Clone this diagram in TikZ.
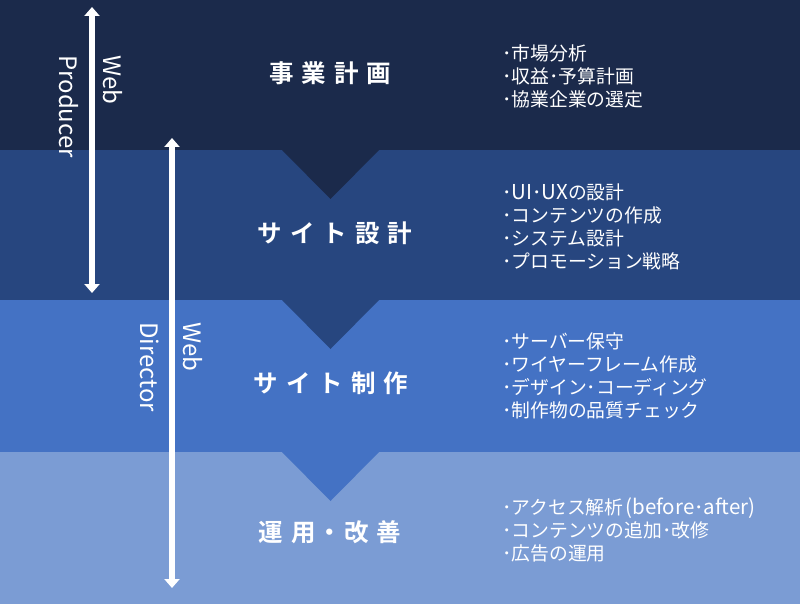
\documentclass[tikz,border=0pt]{standalone}
\usepackage{fontspec}
\setmainfont{Noto Sans CJK JP}[BoldFont={Noto Sans CJK JP Bold}]
\usetikzlibrary{arrows.meta}
\definecolor{bandA}{HTML}{1B2A4B}
\definecolor{bandB}{HTML}{27467F}
\definecolor{bandC}{HTML}{4472C4}
\definecolor{bandD}{HTML}{7B9CD4}
\newcommand{\gp}{\hspace{8pt}}
\newcommand{\latn}[1]{{\fontsize{20.5}{23}\selectfont #1}}
\begin{document}
\begin{tikzpicture}[x=1pt,y=-1pt,
  titlebox/.style={text=white,font=\fontsize{24.5}{28}\selectfont\bfseries,inner sep=0pt},
  listbox/.style={text=white,font=\fontsize{18.8}{23}\selectfont,align=left,anchor=west,inner sep=0pt},
  rolebox/.style={text=white,font=\fontsize{24}{28}\selectfont,rotate=-90,anchor=west,inner sep=0pt},
  rolearrow/.style={draw=white,line width=6pt,{Triangle[width=15pt,length=9pt]}-{Triangle[width=15pt,length=9pt]}}]
\useasboundingbox (0,0) rectangle (800,604);
\fill[bandA] (0,0) rectangle (800,150);
\fill[bandB] (0,150) rectangle (800,300);
\fill[bandC] (0,300) rectangle (800,452);
\fill[bandD] (0,452) rectangle (800,604);
\fill[bandA] (282,150) -- (379,150) -- (330.5,199) -- cycle;
\fill[bandB] (282,300) -- (379,300) -- (330.5,349) -- cycle;
\fill[bandC] (282,452) -- (379,452) -- (330.5,501) -- cycle;

\node[titlebox] (t1) at (330,73) {事\gp 業\gp 計\gp 画};
\node[titlebox] (t2) at (335,233) {サ\gp イ\gp ト\gp 設\gp 計};
\node[titlebox] (t3) at (331,383) {サ\gp イ\gp ト\gp 制\gp 作};
\node[titlebox] (t4) at (330,532) {運\gp 用\hspace{2pt}・\hspace{2pt}改\gp 善};

\node[listbox] (l1) at (502,76) {･市場分析\\･収益･予算計画\\･協業企業の選定};
\node[listbox] (l2) at (502,227) {･\latn{UI}･\latn{UX}の設計\\･コンテンツの作成\\･システム設計\\･プロモーション戦略};
\node[listbox] (l3) at (502,376) {･サーバー保守\\･ワイヤーフレーム作成\\･デザイン･コーディング\\･制作物の品質チェック};
\node[listbox] (l4) at (502,530) {･アクセス解析\hspace{2pt}\latn{(before}･\latn{after)}\\･コンテンツの追加･改修\\･広告の運用};

\coordinate (pa) at (92,7);
\coordinate (pb) at (92,293);
\coordinate (da) at (172,138);
\coordinate (db) at (172,588);
\draw[rolearrow] (pa) -- (pb);
\draw[rolearrow] (da) -- (db);

\node[rolebox] (w1) at (113,55) {Web};
\node[rolebox] (r1) at (69,55) {Producer};
\node[rolebox] (w2) at (193,322) {Web};
\node[rolebox] (r2) at (150,322) {Director};
\end{tikzpicture}
\end{document}
